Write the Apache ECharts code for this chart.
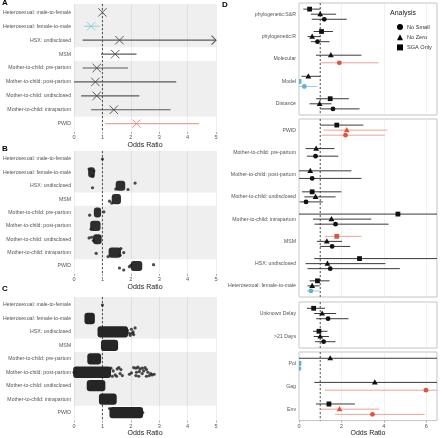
<!DOCTYPE html>
<html><head><meta charset="utf-8">
<script src="https://cdn.jsdelivr.net/npm/echarts@6/dist/echarts.min.js"></script>
<style>html,body{margin:0;padding:0;background:#fff}#c{width:440px;height:438px}</style>
</head><body><div id="c"></div>
<script>
// ---------------- DATA ----------------
const rowLabels = ['Heterosexual: male-to-female','Heterosexual: female-to-male','HSX: undisclosed','MSM',
  'Mother-to-child: pre-partum','Mother-to-child: post-partum','Mother-to-child: undisclosed','Mother-to-child: intrapartum','PWID'];
const rowGroups = ['Heterosexual','Heterosexual','Heterosexual','MSM','Mother-to-child','Mother-to-child','Mother-to-child','Mother-to-child','PWID'];
const xTicksABC = [0,1,2,3,4,5];
const xTicksD = [0,2,4,6];

// Panel A: odds ratio with 95% CI
const aEst  = [1.0, 0.6, 1.6, 1.45, 0.8, 0.75, 0.8, 1.4, 2.2];
const aLow  = [1.0, 0.35, 0.3, 0.95, 0.3, 0.0, 0.25, 0.6, 1.1];
const aHigh = [1.0, 0.9, 6.0, 2.2, 1.9, 3.6, 2.3, 3.4, 4.4];
const aSig  = ['n','l','n','n','n','n','n','n','h'];

// Panel B: dense cloud of estimates per row (low/high of the dense core) + scattered estimates [x,row,jitter]
const bCoreLow  = [null, 0.55, 1.52, 1.38, 0.75, 0.62, 0.72, 1.27, 2.05];
const bCoreHigh = [null, 0.68, 1.75, 1.60, 0.90, 0.88, 0.92, 1.60, 2.35];
const bPoints = [
  [1.0,1,0],
  [0.53,2,-0.25],[0.66,2,0.3],[0.70,2,-0.1],
  [0.65,3,0.15],[2.15,3,-0.2],[1.90,3,0.28],[1.47,3,0.25],
  [1.25,4,0.15],[1.33,4,0.3],
  [0.55,5,0.2],[1.05,5,-0.05],
  [0.60,6,0.25],
  [0.53,7,-0.1],[0.62,7,-0.15],[0.68,7,0.1],
  [1.65,8,-0.3],[1.75,8,0.0],[0.78,8,0.05],[1.20,8,0.3],[1.62,8,0.2],
  [2.80,9,-0.1],[1.60,9,0.15],[1.75,9,0.3],[1.95,9,0.05],[2.0,9,-0.05]
];

// Panel C
const cCoreLow  = [null, 0.42, 0.88, 1.00, 0.52, 0.02, 0.50, 0.93, 1.30];
const cCoreHigh = [null, 0.68, 1.85, 1.50, 0.90, 1.25, 1.05, 1.45, 2.38];
const cPoints = [
  [1.0,1,0],
  [1.88,3,-0.1],[1.95,3,0.1],[2.02,3,-0.2],[2.08,3,0.0],[2.15,3,-0.3],[2.10,3,0.2],[1.98,3,0.25],[2.05,3,0.1],
  [0.0,6,0.0],
  [1.30,6,-0.3],[1.38,6,-0.1],[1.45,6,0.2],[1.52,6,-0.25],[1.58,6,-0.35],[1.62,6,0.1],[1.70,6,0.25],[1.50,6,0.3],[1.35,6,0.3],[1.65,6,-0.2],
  [2.10,6,-0.35],[2.18,6,-0.3],[2.25,6,-0.38],[2.32,6,-0.25],[2.40,6,-0.3],[2.50,6,-0.35],[2.55,6,-0.2],[2.45,6,-0.1],[2.30,6,-0.05],
  [2.20,6,0.0],[2.02,6,0.05],[2.60,6,0.0],[2.70,6,0.1],[2.75,6,0.2],[2.82,6,0.15],[2.65,6,0.25],[2.55,6,0.3],[2.28,6,0.3],[2.18,6,0.25],[1.95,6,0.15],[2.40,6,0.1],
  [1.25,9,-0.3],[2.42,9,0.0]
];

// Panel D: facets and rows
const dFacetRows = [
  ['phylogenetic:S&R','phylogenetic:R','Molecular','Model','Distance'],
  ['PWID','Mother-to-child: pre-partum','Mother-to-child: post-partum','Mother-to-child: undisclosed',
   'Mother-to-child: intrapartum','MSM','HSX: undisclosed','Heterosexual: female-to-male'],
  ['Unknown Delay','>21 Days'],
  ['Pol','Gag','Env']
];
// [estimate, low, high, significance]  n = none, h = above 1, l = below 1
const dNoSmall = [
  [[1.19,0.6,2.25,'n'],[0.87,0.56,1.44,'n'],[1.9,1.03,3.75,'h'],[0.25,0,0.87,'l'],[1.6,1.0,2.85,'n']],
  [[2.19,1.05,4.04,'h'],[0.78,0.37,1.85,'n'],[0.62,0,2.94,'n'],[0.33,0.03,1.12,'n'],[1.72,0.73,4.22,'n'],[1.56,1.0,2.41,'n'],[1.47,0.4,4.75,'n'],[0.56,0.37,0.97,'l']],
  [[1.37,0.81,2.33,'n'],[1.16,0.75,1.72,'n']],
  [[0.0,0,0.03,'l'],[5.98,1.22,8.0,'h'],[3.46,1.69,5.92,'h']]
];
const dNoZero = [
  [[1.0,0.56,1.75,'n'],[0.62,0.4,1.0,'n'],[1.5,0.8,2.94,'n'],[0.44,0.12,1.0,'n'],[0.97,0.5,1.53,'n']],
  [[2.25,1.15,4.16,'h'],[0.81,0.31,1.67,'n'],[0.53,0,2.47,'n'],[0.78,0.25,1.72,'n'],[1.53,0.66,3.41,'n'],[1.31,0.84,2.03,'n'],[1.34,0.31,4.07,'n'],[0.62,0.4,0.97,'n']],
  [[1.09,0.72,1.75,'n'],[1.0,0.69,1.41,'n']],
  [[1.47,0,8.0,'n'],[3.57,0.72,8.0,'n'],[1.91,1.0,3.78,'h']]
];
const dSgaOnly = [
  [[0.5,0.2,1.0,'n'],[1.06,0.69,1.6,'n'],null,[0.0,0,0.03,'l'],[1.47,0.81,2.35,'n']],
  [[1.78,1.0,3.03,'n'],null,null,[0.62,0.14,2.0,'n'],[4.66,0,8.0,'n'],[1.78,1.22,2.94,'h'],[2.85,0.72,8.0,'n'],[0.87,0.5,1.44,'n']],
  [[0.69,0.37,1.23,'n'],[0.94,0.66,1.34,'n']],
  [[0.0,0,0.03,'l'],null,[1.41,0.8,2.63,'n']]
];
const dOrderDefault = ['SGA Only','No Zero','No Small'];
const dOrderOverride = {'Model':['No Zero','SGA Only','No Small'], 'Pol':['No Zero','SGA Only','No Small']};

// ---------------- STYLE ----------------
const FONT = 'Liberation Sans, Arial, sans-serif';
const COL = {
  band:'rgba(0,0,0,0.062)', split:'#e2e2e2', label:'#555',
  aLine:'#5a5a5a', aMark:'#4a4a4a',
  dark:'#111', darkLine:'#3a3a3a',
  redM:'#e0533d', redL:'#eba395', redX:'#e48a7b',
  blueM:'#5ab5d4', blueL:'#95d0e2', blueX:'#8cc9dc'
};
const grids = [
  {left:73, top:4,   width:143, height:128},
  {left:73, top:151, width:143, height:123},
  {left:73, top:297, width:143, height:124},
  {left:299, top:3,   width:138, height:112, show:true, borderColor:'#c4c4c4', borderWidth:1},
  {left:299, top:119, width:138, height:178, show:true, borderColor:'#c4c4c4', borderWidth:1},
  {left:299, top:302, width:138, height:46,  show:true, borderColor:'#c4c4c4', borderWidth:1},
  {left:299, top:352, width:138, height:70,  show:true, borderColor:'#c4c4c4', borderWidth:1}
];

// bands from row groups
function makeBands(){
  const runs=[]; let start=0;
  for(let i=1;i<=rowGroups.length;i++){
    if(i===rowGroups.length || rowGroups[i]!==rowGroups[i-1]){ runs.push([start,i-1]); start=i; }
  }
  return runs.filter((r,k)=>k%2===0).map(r=>[r[0]===0?0.4:r[0]+0.5, r[1]===rowGroups.length-1?9.6:r[1]+1.5]);
}
const bands = makeBands();

const xAxes=[], yAxes=[], series=[];
for(let g=0; g<3; g++){
  xAxes.push({gridIndex:g, type:'value', min:0, max:5, interval:0.5,
    axisLine:{show:false},
    axisTick:{show:true, customValues:xTicksABC, length:2, lineStyle:{color:'#777', width:0.6}},
    axisLabel:{customValues:xTicksABC, fontSize:5.6, color:COL.label, margin:2.5, fontFamily:FONT},
    splitLine:{show:true, lineStyle:{color:COL.split, width:0.6}},
    name:'Odds Ratio', nameLocation:'middle', nameGap:9, nameTextStyle:{fontSize:7, color:'#222', fontFamily:FONT}});
  yAxes.push({gridIndex:g, type:'value', min:0.4, max:9.6, inverse:true,
    axisLine:{show:false}, axisTick:{show:false}, splitLine:{show:false},
    axisLabel:{customValues:[1,2,3,4,5,6,7,8,9], formatter:v=>rowLabels[Math.round(v)-1]||'', fontSize:5.2, color:COL.label, margin:3, fontFamily:FONT}});
}
for(let f=0; f<4; f++){
  const g=f+3, n=dFacetRows[f].length, last = f===3;
  xAxes.push({gridIndex:g, type:'value', min:0, max:6.5, interval:1,
    axisLine:{show:false},
    axisTick:{show:last, customValues:xTicksD, length:2, lineStyle:{color:'#777', width:0.6}},
    axisLabel:{show:last, customValues:xTicksD, fontSize:5.6, color:COL.label, margin:2.5, fontFamily:FONT},
    splitLine:{show:true, lineStyle:{color:'#e8e8e8', width:0.6}},
    name: last?'Odds Ratio':'', nameLocation:'middle', nameGap:9, nameTextStyle:{fontSize:7, color:'#222', fontFamily:FONT}});
  yAxes.push({gridIndex:g, type:'value', min:0.5, max:n+0.5, inverse:true,
    axisLine:{show:false}, axisTick:{show:false}, splitLine:{show:false},
    axisLabel:{customValues:dFacetRows[f].map((_,k)=>k+1), formatter:v=>dFacetRows[f][Math.round(v)-1]||'', fontSize:5.2, color:COL.label, margin:3, fontFamily:FONT}});
}

function refRender(params, api){
  const cs=params.coordSys; const x=api.coord([api.value(0), 1])[0];
  return {type:'line', shape:{x1:x,y1:cs.y,x2:x,y2:cs.y+cs.height}, style:{stroke:'#3c3c3c', lineWidth:0.9, lineDash:[2.2,1.8]}};
}
function bandRender(params, api){
  const cs=params.coordSys;
  const y0=api.coord([0,api.value(0)])[1], y1=api.coord([0,api.value(1)])[1];
  return {type:'rect', shape:{x:cs.x, y:Math.min(y0,y1), width:cs.width, height:Math.abs(y1-y0)}, style:{fill:COL.band}};
}
// bands and reference lines
for(let g=0; g<3; g++){
  series.push({type:'custom', xAxisIndex:g, yAxisIndex:g, data:bands.map(b=>[b[0],b[1]]), encode:{x:-1,y:[0,1]}, renderItem:bandRender, z:1, silent:true});
}
for(let g=0; g<7; g++){
  series.push({type:'custom', xAxisIndex:g, yAxisIndex:g, data:[[1,1]], encode:{x:0,y:1}, renderItem:refRender, z:2, silent:true});
}

// Panel A
series.push({type:'custom', xAxisIndex:0, yAxisIndex:0, z:5, silent:true,
  data:aEst.map((v,i)=>[v,i+1,aLow[i],aHigh[i]]), encode:{x:0,y:1},
  renderItem:function(params, api){
    const i=params.dataIndex, row=i+1, xmax=5;
    const sig=aSig[i];
    const lc = sig==='h'?COL.redL:sig==='l'?COL.blueL:COL.aLine;
    const mc = sig==='h'?COL.redX:sig==='l'?COL.blueX:COL.aMark;
    const p0=api.coord([aLow[i],row]), p1=api.coord([Math.min(aHigh[i],xmax),row]), pe=api.coord([aEst[i],row]);
    const ch=[];
    if(aHigh[i]>aLow[i]) ch.push({type:'line', shape:{x1:p0[0],y1:p0[1],x2:p1[0],y2:p1[1]}, style:{stroke:lc,lineWidth:1.1}});
    if(aHigh[i]>xmax) ch.push({type:'polyline', shape:{points:[[p1[0]-4.5,p1[1]-4.5],[p1[0],p1[1]],[p1[0]-4.5,p1[1]+4.5]]}, style:{stroke:lc,lineWidth:1.1,fill:null}});
    const s=4.2;
    ch.push({type:'line', shape:{x1:pe[0]-s,y1:pe[1]-s,x2:pe[0]+s,y2:pe[1]+s}, style:{stroke:mc,lineWidth:0.9}});
    ch.push({type:'line', shape:{x1:pe[0]-s,y1:pe[1]+s,x2:pe[0]+s,y2:pe[1]-s}, style:{stroke:mc,lineWidth:0.9}});
    return {type:'group', children:ch};
  }});

// Panels B, C
function coreSeries(g, lows, highs, hFrac, color){
  const data=[];
  lows.forEach((lo,i)=>{ if(lo!==null) data.push([lo, highs[i], i+1]); });
  return {type:'custom', xAxisIndex:g, yAxisIndex:g, z:5, silent:true, data, encode:{x:[0,1], y:2},
    renderItem:function(params, api){
      const a=api.coord([api.value(0), api.value(2)-hFrac/2]), b=api.coord([api.value(1), api.value(2)+hFrac/2]);
      const w=b[0]-a[0], h=b[1]-a[1];
      return {type:'rect', shape:{x:a[0]-1.5, y:a[1], width:w+3, height:h, r:Math.min(3, (w+3)/2)}, style:{fill:color}};
    }};
}
series.push(coreSeries(1, bCoreLow, bCoreHigh, 0.76, '#2e2e2e'));
series.push({type:'scatter', xAxisIndex:1, yAxisIndex:1, z:6, silent:true, symbolSize:3.2,
  itemStyle:{color:'#1e1e1e'}, data:bPoints.map(p=>[p[0], p[1]+p[2]])});
series.push(coreSeries(2, cCoreLow, cCoreHigh, 0.84, '#252525'));
series.push({type:'scatter', xAxisIndex:2, yAxisIndex:2, z:6, silent:true, symbolSize:3.2,
  itemStyle:{color:'#1e1e1e'}, data:cPoints.map(p=>[p[0], p[1]+p[2]])});

// Panel D
const dGroups = [
  {name:'SGA Only', vals:dSgaOnly, shape:'square'},
  {name:'No Zero', vals:dNoZero, shape:'triangle'},
  {name:'No Small', vals:dNoSmall, shape:'circle'}
];
const DODGE_W = 0.68;
function dodge(f,k,name){
  const order = dOrderOverride[dFacetRows[f][k]] || dOrderDefault;
  const present = order.filter(nm => dGroups.find(gr=>gr.name===nm).vals[f][k]);
  const n=present.length, j=present.indexOf(name);
  return (j-(n-1)/2)*DODGE_W/n;
}
dGroups.forEach(gr=>{
  for(let f=0; f<4; f++){
    const data=[], sigs=[];
    gr.vals[f].forEach((d,k)=>{ if(d){ data.push([d[0], k+1+dodge(f,k,gr.name), d[1], d[2]]); sigs.push(d[3]); } });
    series.push({type:'custom', name:gr.name, xAxisIndex:f+3, yAxisIndex:f+3, z:5, clip:true, silent:true,
      itemStyle:{color:'#000'}, data, encode:{x:0,y:1},
      renderItem:function(params, api){
        const sig=sigs[params.dataIndex];
        const lc = sig==='h'?COL.redL:sig==='l'?COL.blueL:COL.darkLine;
        const mc = sig==='h'?COL.redM:sig==='l'?COL.blueM:COL.dark;
        const y=api.value(1);
        const p0=api.coord([api.value(2),y]), p1=api.coord([api.value(3),y]), pe=api.coord([api.value(0),y]);
        const ch=[{type:'line', shape:{x1:p0[0],y1:p0[1],x2:p1[0],y2:p1[1]}, style:{stroke:lc,lineWidth:1}}];
        const x=pe[0], yy=pe[1];
        if(gr.shape==='circle') ch.push({type:'circle', shape:{cx:x,cy:yy,r:2.4}, style:{fill:mc}});
        else if(gr.shape==='square') ch.push({type:'rect', shape:{x:x-2.4,y:yy-2.4,width:4.8,height:4.8}, style:{fill:mc}});
        else ch.push({type:'polygon', shape:{points:[[x,yy-3.1],[x-2.9,yy+2.1],[x+2.9,yy+2.1]]}, style:{fill:mc}});
        return {type:'group', children:ch};
      }});
  }
});

const option = {
  animation:false,
  backgroundColor:'#fff',
  textStyle:{fontFamily:FONT},
  grid:grids, xAxis:xAxes, yAxis:yAxes, series,
  legend:{left:392, top:19, orient:'vertical', itemWidth:6, itemHeight:6, itemGap:4.2, selectedMode:false,
    textStyle:{fontSize:5.6, color:'#333', fontFamily:FONT, padding:[0,0,0,-1]},
    data:[{name:'No Small',icon:'circle'},{name:'No Zero',icon:'triangle'},{name:'SGA Only',icon:'rect'}]},
  graphic:[
    {type:'text', left:2, top:-1, style:{text:'A', font:'bold 8px '+FONT, fill:'#000'}},
    {type:'text', left:2, top:145, style:{text:'B', font:'bold 8px '+FONT, fill:'#000'}},
    {type:'text', left:2, top:285, style:{text:'C', font:'bold 8px '+FONT, fill:'#000'}},
    {type:'text', left:222, top:1, style:{text:'D', font:'bold 8px '+FONT, fill:'#000'}},
    {type:'text', left:390, top:10, style:{text:'Analysis', font:'7px '+FONT, fill:'#222'}}
  ]
};
const chart = echarts.init(document.getElementById('c'), null, {renderer:'canvas'});
chart.setOption(option);
</script></body></html>
